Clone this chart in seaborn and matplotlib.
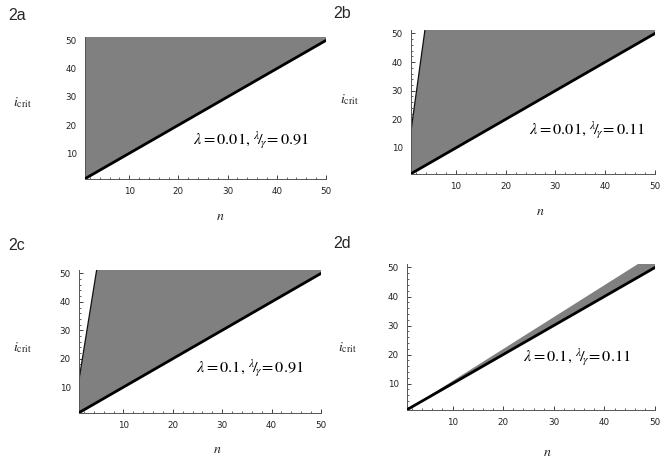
import numpy as np
import pandas as pd
import seaborn as sns
import matplotlib
matplotlib.use("Agg")
import matplotlib.pyplot as plt
from matplotlib.ticker import MultipleLocator

sns.set_style("white")
plt.rcParams['font.family'] = ['DejaVu Sans']
plt.rcParams['mathtext.fontset'] = 'stix'

# ---- data ----
panel_ids = ["2a", "2b", "2c", "2d"]
lam_vals = ["0.01", "0.01", "0.1", "0.1"]
ratio_vals = ["0.91", "0.11", "0.91", "0.11"]

# lower boundary (thick black line), same in all panels
lower_n = [1, 10, 20, 30, 40, 50]
lower_i = [1, 10, 20, 30, 40, 50]

# upper boundary of the shaded region per panel
upper_a_n = [1, 50]
upper_a_i = [60, 60]
upper_b_n = [1, 4.5]
upper_b_i = [16, 60]
upper_c_n = [1, 5.5]
upper_c_i = [12.6, 61.2]
upper_d_n = [1, 10, 20, 30, 40, 50]
upper_d_i = [1, 10.9, 21.9, 32.9, 43.9, 54.9]

uppers = [(upper_a_n, upper_a_i, False),
          (upper_b_n, upper_b_i, True),
          (upper_c_n, upper_c_i, True),
          (upper_d_n, upper_d_i, False)]

x_ticks = [10, 20, 30, 40, 50]
y_ticks = [10, 20, 30, 40, 50]

# ---- layout ----
fig = plt.figure(figsize=(6.61, 4.63), dpi=100)
W, H = 661, 463
boxes = [(85, 37, 326, 179), (411, 30, 655, 174),
         (79, 270, 321, 413), (407, 264, 655, 410)]
text_pos = [(0.69, 0.275), (0.72, 0.305), (0.705, 0.315), (0.685, 0.363)]
label_pos = [(8, 16), (333, 13), (8, 245), (333, 243)]
ylab_pos = [(22, 103), (349, 100), (22, 348), (347, 348)]
xlab_pos = [(220, 216), (540, 211), (217, 449), (547, 452)]

fill_col = '#808080'
for k in range(4):
    x0, y0, x1, y1 = boxes[k]
    ax = fig.add_axes([x0 / W, 1 - y1 / H, (x1 - x0) / W, (y1 - y0) / H])
    un, ui, draw_up = uppers[k]
    if k == 0:
        poly_x = list(lower_n) + list(un)[::-1]
        poly_y = list(lower_i) + list(ui)[::-1]
    elif k == 3:
        poly_x = list(lower_n) + list(un)[::-1]
        poly_y = list(lower_i) + list(ui)[::-1]
    else:
        poly_x = list(lower_n) + [lower_n[-1]] + list(un)[::-1]
        poly_y = list(lower_i) + [ui[-1]] + list(ui)[::-1]
    ax.fill(poly_x, poly_y, color=fill_col, lw=0, zorder=1)
    if draw_up:
        sns.lineplot(x=un, y=ui, ax=ax, color='#111111', lw=0.9, zorder=2)
    sns.lineplot(x=lower_n, y=lower_i, ax=ax, color='black', lw=2.0, zorder=3)

    ax.set_xlim(1, 50)
    ax.set_ylim(0.9, 51.2)
    ax.set_xticks(x_ticks)
    ax.set_yticks(y_ticks)
    ax.xaxis.set_minor_locator(MultipleLocator(2))
    ax.yaxis.set_minor_locator(MultipleLocator(2))
    ax.tick_params(which='major', direction='in', length=3, width=0.6,
                   labelsize=6.3, pad=6, bottom=True, left=True, colors='#222222')
    ax.tick_params(which='minor', direction='in', length=1.6, width=0.5,
                   bottom=True, left=True, colors='#222222')
    for s in ['top', 'right']:
        ax.spines[s].set_visible(False)
    for s in ['left', 'bottom']:
        ax.spines[s].set_linewidth(0.7)
        ax.spines[s].set_color('#555555')
    ax.set_xlabel('')
    ax.set_ylabel('')

    ax.text(text_pos[k][0], text_pos[k][1],
            r'$\lambda = %s,\, {}^{\lambda}\!/\!{}_{\gamma}\!= %s$' % (lam_vals[k], ratio_vals[k]),
            transform=ax.transAxes, ha='center', va='center', fontsize=11.8, color='black')

    lx, ly = label_pos[k]
    fig.text(lx / W, 1 - ly / H, panel_ids[k], ha='left', va='center',
             fontsize=11.5, family='Liberation Sans')
    yx, yy = ylab_pos[k]
    fig.text(yx / W, 1 - yy / H, r'$i_{\mathrm{crit}}$', ha='center', va='center', fontsize=10)
    xx, xy = xlab_pos[k]
    fig.text(xx / W, 1 - xy / H, r'$n$', ha='center', va='center', fontsize=10)

fig.savefig('out.png', dpi=100)
